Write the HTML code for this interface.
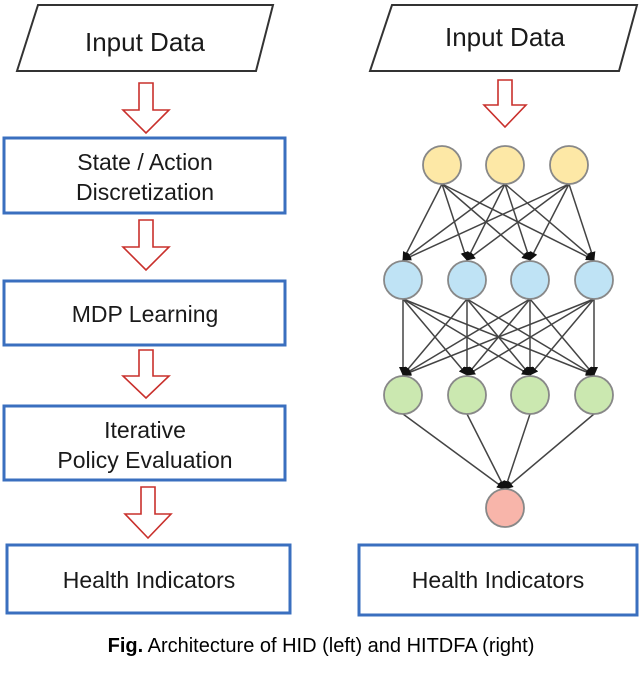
<!DOCTYPE html>
<html><head><style>
body{margin:0;background:#fff;width:643px;height:673px;overflow:hidden}
svg{display:block}
text{font-family:"Liberation Sans",sans-serif;fill:#1a1a1a}
</style></head><body>
<svg width="643" height="673" viewBox="0 0 643 673">
<defs>
<marker id="ah" markerWidth="9" markerHeight="8" refX="8" refY="4" orient="auto" markerUnits="userSpaceOnUse">
<path d="M0,0 L9,4 L0,8 z" fill="#111"/></marker>
</defs>
<polygon points="38,5 273,5 256,71 17,71" fill="#fff" stroke="#333" stroke-width="2"/>
<text x="145" y="51" font-size="26" text-anchor="middle">Input Data</text>
<polygon points="392,5 637,5 619,71 370,71" fill="#fff" stroke="#333" stroke-width="2"/>
<text x="505" y="46" font-size="26" text-anchor="middle">Input Data</text>

<g fill="#fff" stroke="#c9302c" stroke-width="1.6">
<path d="M139,83 H153 V110 H169 L146,133 L123,110 H139 Z"/>
<path d="M139,220 H153 V247 H169 L146,270 L123,247 H139 Z"/>
<path d="M139,350 H153 V376 H169 L146,398 L123,376 H139 Z"/>
<path d="M141,487 H155 V514 H171 L148,538 L125,514 H141 Z"/>
<path d="M498,80 H512 V105 H526 L505,127 L484,105 H498 Z"/>
</g>

<g fill="#fff" stroke="#3a6fbf" stroke-width="3">
<rect x="4" y="138" width="281" height="75"/>
<rect x="4" y="281" width="281" height="64"/>
<rect x="4" y="406" width="281" height="74"/>
<rect x="7" y="545" width="283" height="68"/>
<rect x="359" y="545" width="278" height="70"/>
</g>
<text x="145" y="170" font-size="23" text-anchor="middle">State / Action</text>
<text x="145" y="200" font-size="23" text-anchor="middle">Discretization</text>
<text x="145" y="322" font-size="23" text-anchor="middle">MDP Learning</text>
<text x="145" y="438" font-size="23" text-anchor="middle">Iterative</text>
<text x="145" y="468" font-size="23" text-anchor="middle">Policy Evaluation</text>
<text x="149" y="588" font-size="23" text-anchor="middle">Health Indicators</text>
<text x="498" y="588" font-size="23" text-anchor="middle">Health Indicators</text>

<g stroke="#444" stroke-width="1.5" marker-end="url(#ah)">
<line x1="442" y1="184" x2="403" y2="260"/><line x1="442" y1="184" x2="467" y2="260"/><line x1="442" y1="184" x2="530" y2="260"/><line x1="442" y1="184" x2="594" y2="260"/>
<line x1="505" y1="184" x2="403" y2="260"/><line x1="505" y1="184" x2="467" y2="260"/><line x1="505" y1="184" x2="530" y2="260"/><line x1="505" y1="184" x2="594" y2="260"/>
<line x1="569" y1="184" x2="403" y2="260"/><line x1="569" y1="184" x2="467" y2="260"/><line x1="569" y1="184" x2="530" y2="260"/><line x1="569" y1="184" x2="594" y2="260"/>
<line x1="403" y1="299" x2="403" y2="375"/><line x1="403" y1="299" x2="467" y2="375"/><line x1="403" y1="299" x2="530" y2="375"/><line x1="403" y1="299" x2="594" y2="375"/>
<line x1="467" y1="299" x2="403" y2="375"/><line x1="467" y1="299" x2="467" y2="375"/><line x1="467" y1="299" x2="530" y2="375"/><line x1="467" y1="299" x2="594" y2="375"/>
<line x1="530" y1="299" x2="403" y2="375"/><line x1="530" y1="299" x2="467" y2="375"/><line x1="530" y1="299" x2="530" y2="375"/><line x1="530" y1="299" x2="594" y2="375"/>
<line x1="594" y1="299" x2="403" y2="375"/><line x1="594" y1="299" x2="467" y2="375"/><line x1="594" y1="299" x2="530" y2="375"/><line x1="594" y1="299" x2="594" y2="375"/>
<line x1="403" y1="414" x2="505" y2="489"/><line x1="467" y1="414" x2="505" y2="489"/><line x1="530" y1="414" x2="505" y2="489"/><line x1="594" y1="414" x2="505" y2="489"/>
</g>
<g stroke="#888" stroke-width="1.8">
<circle cx="442" cy="165" r="19" fill="#fde8a6"/><circle cx="505" cy="165" r="19" fill="#fde8a6"/><circle cx="569" cy="165" r="19" fill="#fde8a6"/>
<circle cx="403" cy="280" r="19" fill="#bfe3f5"/><circle cx="467" cy="280" r="19" fill="#bfe3f5"/><circle cx="530" cy="280" r="19" fill="#bfe3f5"/><circle cx="594" cy="280" r="19" fill="#bfe3f5"/>
<circle cx="403" cy="395" r="19" fill="#cbe8b0"/><circle cx="467" cy="395" r="19" fill="#cbe8b0"/><circle cx="530" cy="395" r="19" fill="#cbe8b0"/><circle cx="594" cy="395" r="19" fill="#cbe8b0"/>
<circle cx="505" cy="508" r="19" fill="#f8b5aa"/>
</g>
<text x="321" y="652" font-size="20" text-anchor="middle" style="fill:#000"><tspan font-weight="bold">Fig.</tspan> Architecture of HID (left) and HITDFA (right)</text>
</svg>
</body></html>
